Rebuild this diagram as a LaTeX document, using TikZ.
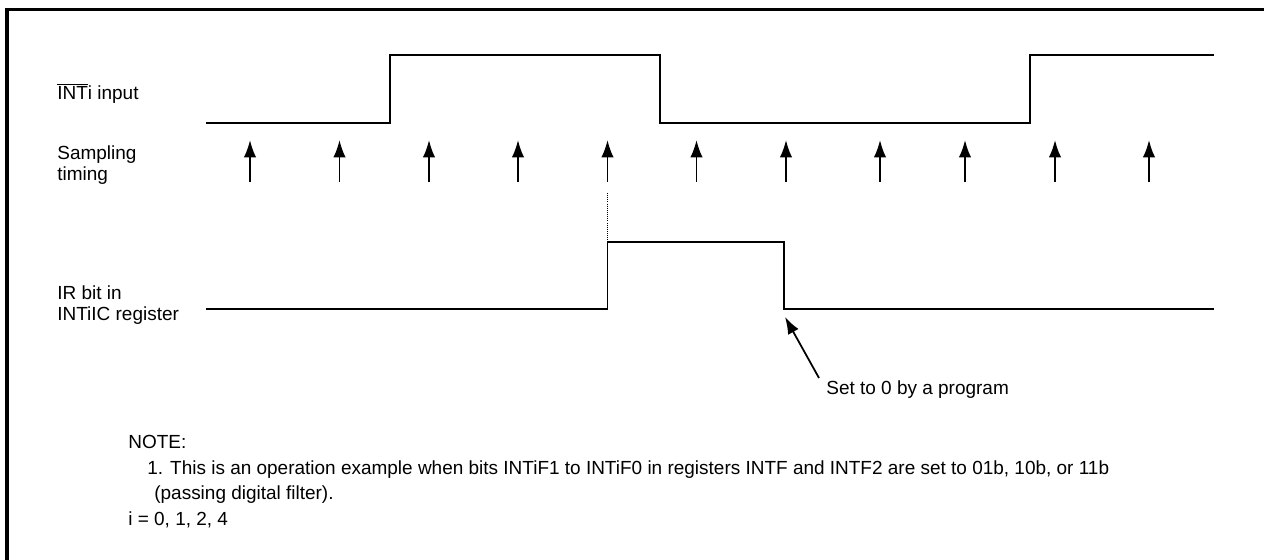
\documentclass[tikz,border=0pt]{standalone}
\usepackage{fontspec}
\setmainfont{Liberation Sans}
\usetikzlibrary{arrows.meta}
\begin{document}
\begin{tikzpicture}[x=0.02cm,y=-0.02cm,
  txt/.style={anchor=base west,inner sep=0pt,font=\fontsize{10.8}{13}\selectfont},
  wave/.style={line width=1pt,line join=miter},
  samp/.style={line width=1.1pt,-{Latex[length=0.35cm,width=0.25cm]}},
  pointer/.style={line width=1pt,-{Latex[length=0.34cm,width=0.24cm]}},
  frame/.style={line width=2pt},
  dotline/.style={line width=0.6pt,dash pattern=on 0.6pt off 0.6pt}]
\useasboundingbox (0,0) rectangle (1264,560);
% frame
\coordinate (fbl) at (7,580);
\coordinate (ftl) at (7,9.5);
\coordinate (ftr) at (1280,9.5);
\draw[frame] (fbl) -- (ftl) -- (ftr);
% labels
\node[txt] (lint) at (57,100) {$\overline{\mbox{INT}}$i input};
\node[txt] (lsamp1) at (57,160) {Sampling};
\node[txt] (lsamp2) at (57,181) {timing};
\node[txt] (lir1) at (57,300) {IR bit in};
\node[txt] (lir2) at (57,321) {INTiIC register};
% INTi waveform
\coordinate (i0) at (206,123);
\coordinate (i1) at (390,123);
\coordinate (i2) at (390,55);
\coordinate (i3) at (660,55);
\coordinate (i4) at (660,123);
\coordinate (i5) at (1030,123);
\coordinate (i6) at (1030,55);
\coordinate (i7) at (1214,55);
\draw[wave] (i0) -- (i1) -- (i2) -- (i3) -- (i4) -- (i5) -- (i6) -- (i7);
% sampling arrows
\foreach \x [count=\k] in {250,339.5,429,518,607.5,696.5,786,880,965,1055,1149}{
  \coordinate (sb\k) at (\x,182);
  \coordinate (st\k) at (\x,140);
  \draw[samp] (sb\k) -- (st\k);
}
% IR waveform
\coordinate (r0) at (206,309);
\coordinate (r1) at (607.5,309);
\coordinate (r2) at (607.5,242);
\coordinate (r3) at (784,242);
\coordinate (r4) at (784,309);
\coordinate (r5) at (1214,309);
\draw[wave] (r0) -- (r1) -- (r2) -- (r3) -- (r4) -- (r5);
\coordinate (d0) at (607.5,193);
\draw[dotline] (d0) -- (r2);
% pointer
\node[txt] (set0) at (826,395) {Set to 0 by a program};
\coordinate (ptail) at (819,378);
\coordinate (ptip) at (785,317);
\draw[pointer] (ptail) -- (ptip);
% note
\node[txt] (n1) at (128,448) {NOTE:};
\node[txt] (n2) at (147,474) {1. This is an operation example when bits INTiF1 to INTiF0 in registers INTF and INTF2 are set to 01b, 10b, or 11b};
\node[txt] (n3) at (154,499) {(passing digital filter).};
\node[txt] (n4) at (128,525) {i = 0, 1, 2, 4};
\end{tikzpicture}
\end{document}
